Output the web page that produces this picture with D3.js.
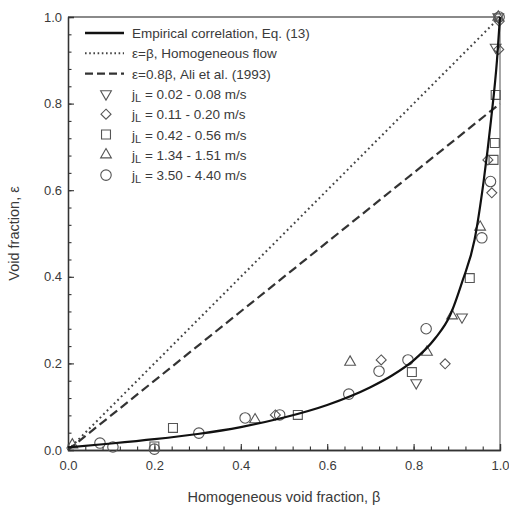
<!DOCTYPE html>
<html>
<head>
<meta charset="utf-8">
<script src="https://cdn.jsdelivr.net/npm/d3@7"></script>
<style>
  body { margin: 0; background: #fff; }
  text { font-family: "Liberation Sans", Arial, sans-serif; fill: #3a3a3a; }
</style>
</head>
<body>
<script>
let w = 509
let h = 506
let margin = {left: 68, right: 9, top: 17, bottom: 56}

// empirical correlation curve
let curveBeta = [0, 0.1, 0.2, 0.3, 0.4, 0.5, 0.6, 0.7, 0.75, 0.8, 0.85, 0.884, 0.913, 0.941, 0.962, 0.979, 0.993, 1.0]
let curveEps  = [0.006, 0.015, 0.025, 0.037, 0.053, 0.075, 0.104, 0.145, 0.172, 0.207, 0.258, 0.31, 0.39, 0.485, 0.62, 0.76, 0.9, 1.0]

// measured points per jL range
let s1Beta = [0.806, 0.912, 0.99, 0.996]
let s1Eps  = [0.155, 0.307, 0.93, 1.0]

let s2Beta = [0.48, 0.725, 0.873, 0.972, 0.981, 0.997, 0.998]
let s2Eps  = [0.081, 0.208, 0.199, 0.67, 0.594, 0.925, 0.99]

let s3Beta = [0.2, 0.243, 0.532, 0.796, 0.93, 0.985, 0.988, 0.99]
let s3Eps  = [0.008, 0.051, 0.081, 0.18, 0.397, 0.67, 0.709, 0.82]

let s4Beta = [0.01, 0.433, 0.653, 0.831, 0.889, 0.954, 0.996]
let s4Eps  = [0.012, 0.07, 0.203, 0.226, 0.31, 0.515, 1.0]

let s5Beta = [0.074, 0.104, 0.2, 0.303, 0.41, 0.49, 0.65, 0.72, 0.787, 0.829, 0.958, 0.978, 0.998]
let s5Eps  = [0.016, 0.007, 0.002, 0.039, 0.074, 0.081, 0.129, 0.182, 0.208, 0.28, 0.49, 0.62, 1.0]

let seriesNames = ["0.02 - 0.08 m/s", "0.11 - 0.20 m/s", "0.42 - 0.56 m/s", "1.34 - 1.51 m/s", "3.50 - 4.40 m/s"]
let lineNames = ["Empirical correlation, Eq. (13)", "\u03b5=\u03b2, Homogeneous flow", "\u03b5=0.8\u03b2, Ali et al. (1993)"]
let majorTicks = [0, 0.2, 0.4, 0.6, 0.8, 1.0]
let minorTicks = d3.range(0, 1.0001, 0.04)

let svg = d3.select("body").append("svg")
  .attr("width", w)
  .attr("height", h)

let xScale = d3.scaleLinear().domain([0, 1]).range([margin.left, w - margin.right])
let yScale = d3.scaleLinear().domain([0, 1]).range([h - margin.bottom, margin.top])

let markerStroke = "#555"

let symbols = [
  {type: d3.symbolTriangle, size: 50, rot: 180},
  {type: d3.symbolDiamond2, size: 64, rot: 0},
  {type: d3.symbolSquare, size: 80, rot: 0},
  {type: d3.symbolTriangle, size: 50, rot: 0},
  {type: d3.symbolCircle, size: 86, rot: 0}
]

// frame: top & right lighter
svg.append("line")
  .attr("x1", xScale(0)).attr("x2", xScale(1))
  .attr("y1", yScale(1)).attr("y2", yScale(1))
  .attr("stroke", "#8a8a8a").attr("stroke-width", 2)
svg.append("line")
  .attr("x1", xScale(1)).attr("x2", xScale(1))
  .attr("y1", yScale(1)).attr("y2", yScale(0))
  .attr("stroke", "#8a8a8a").attr("stroke-width", 1.5)

// axes
let xAxis = d3.axisBottom(xScale).tickValues(majorTicks).tickFormat(d3.format(".1f"))
  .tickSize(-6).tickPadding(11)
svg.append("g").attr("transform", "translate(0," + yScale(0) + ")").call(xAxis)
let xMinor = d3.axisBottom(xScale).tickValues(minorTicks).tickFormat("").tickSize(-3.5).tickSizeOuter(0)
svg.append("g").attr("transform", "translate(0," + yScale(0) + ")").call(xMinor)

let yAxis = d3.axisLeft(yScale).tickValues(majorTicks).tickFormat(d3.format(".1f"))
  .tickSize(-6).tickPadding(6)
svg.append("g").attr("transform", "translate(" + xScale(0) + ",0)").call(yAxis)
let yMinor = d3.axisLeft(yScale).tickValues(minorTicks).tickFormat("").tickSize(-3.5).tickSizeOuter(0)
svg.append("g").attr("transform", "translate(" + xScale(0) + ",0)").call(yMinor)

svg.selectAll(".domain").attr("stroke", "#333").attr("stroke-width", 1.3)
svg.selectAll(".tick line").attr("stroke", "#333").attr("stroke-width", 1.1)
svg.selectAll(".tick text").style("font-size", "13px").attr("fill", "#444")
  .style("font-family", "'Liberation Sans', Arial, sans-serif")

// axis titles
svg.append("text")
  .attr("x", (xScale(0) + xScale(1)) / 2)
  .attr("y", 502)
  .attr("text-anchor", "middle")
  .style("font-size", "14.5px")
  .text("Homogeneous void fraction, \u03b2")

svg.append("text")
  .attr("transform", "translate(19," + (yScale(0) + yScale(1)) / 2 + ") rotate(-90)")
  .attr("text-anchor", "middle")
  .style("font-size", "14.5px")
  .text("Void fraction, \u03b5")

// reference lines
let line = d3.line().x(d => xScale(d[0])).y(d => yScale(d[1]))
svg.append("path")
  .attr("d", line([[0, 0], [1, 1]]))
  .attr("fill", "none").attr("stroke", "#444").attr("stroke-width", 2)
  .attr("stroke-dasharray", "1.8,3.2").attr("stroke-linecap", "butt")
svg.append("path")
  .attr("d", line([[0, 0], [1, 0.8]]))
  .attr("fill", "none").attr("stroke", "#333").attr("stroke-width", 2.2)
  .attr("stroke-dasharray", "9,4.5")

// markers
let allSeries = [
  [s1Beta, s1Eps],
  [s2Beta, s2Eps],
  [s3Beta, s3Eps],
  [s4Beta, s4Eps],
  [s5Beta, s5Eps]
]
allSeries.forEach((s, i) => {
  let pts = s[0].map((b, k) => [b, s[1][k]])
  let sym = d3.symbol().type(symbols[i].type).size(symbols[i].size)
  svg.append("g").selectAll("path")
    .data(pts)
    .enter()
    .append("path")
    .attr("d", sym)
    .attr("transform", d => "translate(" + xScale(d[0]) + "," + yScale(d[1]) + ") rotate(" + symbols[i].rot + ")")
    .attr("fill", "none")
    .attr("stroke", markerStroke)
    .attr("stroke-width", 1.1)
})

// empirical curve
let curvePts = curveBeta.map((b, k) => [b, curveEps[k]])
svg.append("path")
  .attr("d", d3.line().x(d => xScale(d[0])).y(d => yScale(d[1])).curve(d3.curveMonotoneX)(curvePts))
  .attr("fill", "none").attr("stroke", "#111").attr("stroke-width", 2.2)

// legend
let legend = svg.append("g").attr("id", "legend")
let ly0 = 33
let lstep = 20.3
let lx1 = 85, lx2 = 124, ltx = 132
let lineStyles = [
  {dash: null, color: "#111", width: 2.4},
  {dash: "1.6,2.6", color: "#444", width: 2},
  {dash: "8,4", color: "#333", width: 2.2}
]
lineNames.forEach((name, i) => {
  let y = ly0 + i * lstep
  let l = legend.append("line")
    .attr("x1", lx1).attr("x2", lx2).attr("y1", y).attr("y2", y)
    .attr("stroke", lineStyles[i].color).attr("stroke-width", lineStyles[i].width)
  if (lineStyles[i].dash) l.attr("stroke-dasharray", lineStyles[i].dash)
  legend.append("text")
    .attr("x", ltx).attr("y", y + 5)
    .style("font-size", "13.5px")
    .text(name)
})
seriesNames.forEach((name, i) => {
  let y = ly0 + (i + 3) * lstep
  let sym = d3.symbol().type(symbols[i].type).size(symbols[i].size)
  legend.append("path")
    .attr("d", sym)
    .attr("transform", "translate(106," + y + ") rotate(" + symbols[i].rot + ")")
    .attr("fill", "none").attr("stroke", markerStroke).attr("stroke-width", 1.1)
  let t = legend.append("text")
    .attr("x", ltx).attr("y", y + 5)
    .style("font-size", "13.5px")
  t.append("tspan").text("j")
  t.append("tspan").attr("dy", 3).style("font-size", "11px").text("L")
  t.append("tspan").attr("dy", -3).text(" = " + name)
})
</script>
</body>
</html>
